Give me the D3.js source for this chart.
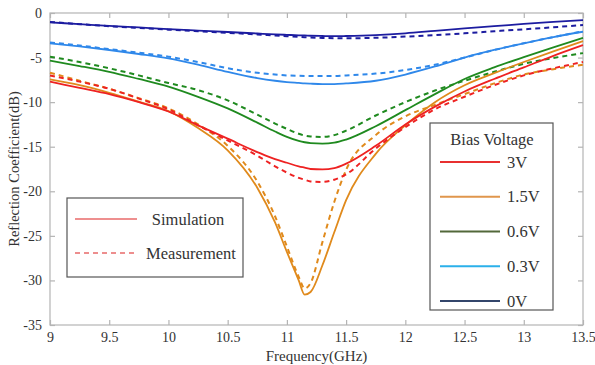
<!DOCTYPE html>
<html>
<head>
<meta charset="utf-8">
<script src="https://cdn.jsdelivr.net/npm/d3@7/dist/d3.min.js"></script>
<style>
  body { margin: 0; background: #fff; }
  svg { display: block; font-family: "Liberation Serif", "DejaVu Serif", serif; }
</style>
</head>
<body>
<svg id="chart"></svg>
<script>
// frequency grid (GHz), denser around the resonance
const freq = [9, 9.25, 9.5, 9.75, 10, 10.25, 10.5, 10.75, 10.9, 11, 11.1, 11.15, 11.2, 11.3, 11.4, 11.5, 11.75, 12, 12.25, 12.5, 12.75, 13, 13.25, 13.5];

const voltages = ['3V', '1.5V', '0.6V', '0.3V', '0V'];

// simulated reflection coefficient (dB)
const sim3V   = [-7.7, -8.4, -9.1, -10.0, -11.05, -12.6, -14.1, -15.6, -16.4, -16.8, -17.2, -17.35, -17.5, -17.55, -17.4, -16.9, -14.9, -12.5, -10.5, -8.8, -7.4, -6.1, -4.8, -3.6];
const sim1_5V = [-7.45, -8.1, -8.95, -9.95, -11.0, -12.9, -15.4, -19.6, -23.5, -26.8, -30.0, -31.6, -31.3, -28.3, -24.6, -21.0, -15.8, -12.6, -10.0, -8.1, -6.75, -5.5, -4.3, -3.15];
const sim0_6V = [-5.35, -5.95, -6.6, -7.4, -8.25, -9.4, -10.7, -12.3, -13.3, -13.9, -14.35, -14.5, -14.6, -14.65, -14.55, -14.2, -12.7, -10.9, -9.1, -7.4, -6.1, -4.95, -3.85, -2.8];
const sim0_3V = [-3.4, -3.75, -4.15, -4.6, -5.1, -5.8, -6.6, -7.3, -7.6, -7.75, -7.85, -7.9, -7.93, -7.97, -7.97, -7.9, -7.6, -6.9, -6.0, -5.0, -4.15, -3.4, -2.7, -2.1];
const sim0V   = [-1.05, -1.25, -1.45, -1.62, -1.8, -1.97, -2.13, -2.3, -2.4, -2.45, -2.5, -2.52, -2.55, -2.58, -2.6, -2.58, -2.48, -2.28, -2.0, -1.72, -1.48, -1.23, -1.0, -0.8];

// measured reflection coefficient (dB)
const meas3V   = [-7.0, -7.7, -8.5, -9.6, -10.8, -12.6, -14.3, -16.0, -17.2, -17.9, -18.5, -18.7, -18.9, -18.95, -18.7, -18.1, -15.2, -12.8, -10.8, -9.4, -8.1, -7.0, -6.2, -5.5];
const meas1_5V = [-6.7, -7.6, -8.5, -9.55, -10.7, -12.5, -14.9, -18.9, -22.8, -26.2, -29.6, -30.9, -30.3, -25.7, -21.2, -17.6, -13.7, -11.6, -10.3, -9.1, -7.9, -6.9, -6.3, -5.8];
const meas0_6V = [-4.9, -5.5, -6.2, -7.0, -7.85, -8.65, -9.8, -11.4, -12.4, -13.0, -13.55, -13.75, -13.85, -13.9, -13.7, -13.2, -11.5, -10.0, -8.7, -7.6, -6.6, -5.7, -5.05, -4.5];
const meas0_3V = [-3.3, -3.65, -4.05, -4.45, -4.9, -5.5, -6.2, -6.7, -6.9, -7.0, -7.05, -7.07, -7.08, -7.08, -7.07, -7.0, -6.8, -6.4, -5.8, -5.0, -4.15, -3.4, -2.7, -2.05];
const meas0V   = [-1.0, -1.25, -1.48, -1.68, -1.87, -2.05, -2.22, -2.4, -2.52, -2.6, -2.68, -2.72, -2.75, -2.8, -2.83, -2.84, -2.78, -2.65, -2.47, -2.28, -2.05, -1.83, -1.6, -1.35];

const xTicks = [9, 9.5, 10, 10.5, 11, 11.5, 12, 12.5, 13, 13.5];
const yTicks = [0, -5, -10, -15, -20, -25, -30, -35];

const simSeries = [sim3V, sim1_5V, sim0_6V, sim0_3V, sim0V];
const measSeries = [meas3V, meas1_5V, meas0_6V, meas0_3V, meas0V];

const lineColors = ['#ee2222', '#e08a1c', '#1f8a1f', '#2f88ea', '#1c1ca0'];
const legendColors = ['#e83030', '#e0964c', '#52683a', '#2bb0ea', '#33456b'];

const width = 595, height = 365;
const marginTop = 13, marginRight = 12, marginBottom = 40, marginLeft = 50;
const fontFamily = '"Liberation Serif", "DejaVu Serif", serif';

const svg = d3.select('#chart')
  .attr('width', width)
  .attr('height', height)
  .attr('viewBox', [0, 0, width, height]);

const xScale = d3.scaleLinear([9, 13.5], [marginLeft, width - marginRight]);
const yScale = d3.scaleLinear([-35, 0], [height - marginBottom, marginTop]);

const axisColor = '#b4b4b4';
const textColor = '#333';

// plot frame
svg.append('rect')
  .attr('x', marginLeft)
  .attr('y', marginTop)
  .attr('width', xScale.range()[1] - marginLeft)
  .attr('height', yScale.range()[0] - marginTop)
  .attr('fill', 'none')
  .attr('stroke', axisColor)
  .attr('stroke-width', 1.2);

// axes with inward ticks, MATLAB style
const styleAxis = g => {
  g.attr('font-family', fontFamily).attr('font-size', 14);
  g.select('.domain').remove();
  g.selectAll('.tick line').attr('stroke', axisColor).attr('stroke-width', 1.2);
  g.selectAll('.tick text').attr('fill', textColor);
};

svg.append('g')
  .attr('transform', `translate(0,${yScale.range()[0]})`)
  .call(d3.axisBottom(xScale).tickValues(xTicks).tickSizeInner(-5).tickSizeOuter(0).tickPadding(7).tickFormat(d3.format('')))
  .call(styleAxis);

svg.append('g')
  .attr('transform', `translate(0,${marginTop})`)
  .call(d3.axisTop(xScale).tickValues(xTicks).tickSizeInner(-5).tickSizeOuter(0).tickFormat(''))
  .call(styleAxis);

svg.append('g')
  .attr('transform', `translate(${marginLeft},0)`)
  .call(d3.axisLeft(yScale).tickValues(yTicks).tickSizeInner(-5).tickSizeOuter(0).tickPadding(8).tickFormat(d3.format('')))
  .call(styleAxis);

svg.append('g')
  .attr('transform', `translate(${xScale.range()[1]},0)`)
  .call(d3.axisRight(yScale).tickValues(yTicks).tickSizeInner(-5).tickSizeOuter(0).tickFormat(''))
  .call(styleAxis);

// plain hyphen minus like the original
svg.selectAll('.tick text').text(function () { return d3.select(this).text().replace('\u2212', '-'); });

// axis labels
svg.append('text')
  .attr('x', (marginLeft + xScale.range()[1]) / 2)
  .attr('y', height - 4)
  .attr('text-anchor', 'middle')
  .attr('font-size', 15)
  .attr('fill', textColor)
  .text('Frequency(GHz)');

svg.append('text')
  .attr('transform', `translate(19,${(marginTop + yScale.range()[0]) / 2}) rotate(-90)`)
  .attr('text-anchor', 'middle')
  .attr('font-size', 14.5)
  .attr('fill', textColor)
  .text('Reflection Coefficient(dB)');

// curves
const line = d3.line()
  .x((d, i) => xScale(freq[i]))
  .y(d => yScale(d))
  .curve(d3.curveMonotoneX);

const plot = svg.append('g');

// draw from 0V up to 3V so red lies on top
d3.range(voltages.length).reverse().forEach(k => {
  plot.append('path')
    .attr('d', line(measSeries[k]))
    .attr('fill', 'none')
    .attr('stroke', lineColors[k])
    .attr('stroke-width', 2)
    .attr('stroke-dasharray', '5,4');
  plot.append('path')
    .attr('d', line(simSeries[k]))
    .attr('fill', 'none')
    .attr('stroke', lineColors[k])
    .attr('stroke-width', 1.8);
});

// Bias Voltage legend
const leg = svg.append('g').attr('transform', 'translate(430,123)');
leg.append('rect')
  .attr('width', 123).attr('height', 187)
  .attr('fill', '#fff').attr('stroke', '#555').attr('stroke-width', 1.2);
leg.append('text')
  .attr('x', 62).attr('y', 22)
  .attr('text-anchor', 'middle')
  .attr('font-size', 16.5)
  .attr('fill', textColor)
  .text('Bias Voltage');
const rowY = d3.scalePoint(voltages, [39, 178]);
voltages.forEach((v, k) => {
  leg.append('line')
    .attr('x1', 10).attr('x2', 70)
    .attr('y1', rowY(v)).attr('y2', rowY(v))
    .attr('stroke', legendColors[k]).attr('stroke-width', 2);
  leg.append('text')
    .attr('x', 77).attr('y', rowY(v) + 5.5)
    .attr('font-size', 16.5)
    .attr('fill', textColor)
    .text(v);
});

// Simulation / Measurement legend
const leg2 = svg.append('g').attr('transform', 'translate(67,198)');
leg2.append('rect')
  .attr('width', 176).attr('height', 79)
  .attr('fill', '#fff').attr('stroke', '#555').attr('stroke-width', 1.2);
[['Simulation', null, 21], ['Measurement', '5,4', 55]].forEach(([label, dash, y]) => {
  leg2.append('line')
    .attr('x1', 8).attr('x2', 70)
    .attr('y1', y).attr('y2', y)
    .attr('stroke', '#e86a6a').attr('stroke-width', 1.5)
    .attr('stroke-dasharray', dash);
  leg2.append('text')
    .attr('x', label === 'Simulation' ? 121 : 124).attr('y', y + 5.5)
    .attr('text-anchor', 'middle')
    .attr('font-size', 16.5)
    .attr('fill', textColor)
    .text(label);
});
</script>
</body>
</html>
